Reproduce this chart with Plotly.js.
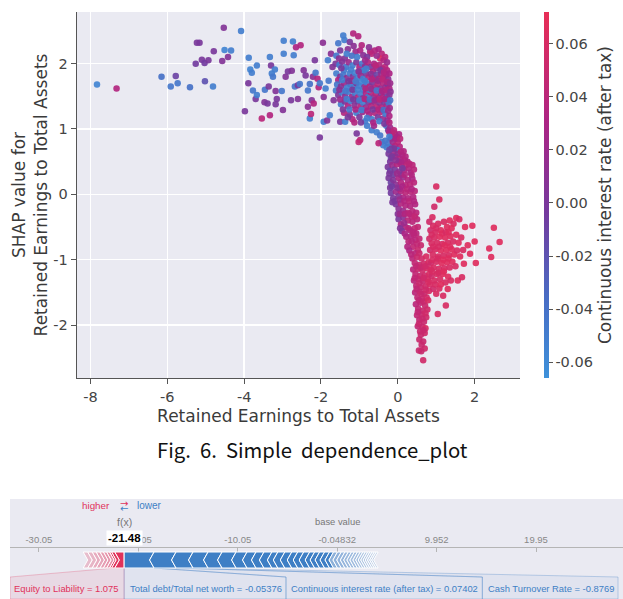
<!DOCTYPE html>
<html><head><meta charset="utf-8">
<script src="https://cdn.plot.ly/plotly-3.0.1.min.js"></script>
<style>html,body{margin:0;padding:0;background:#fff}#chart{width:623px;height:599px}</style>
</head><body><div id="chart"></div>
<script>
// ---------- dependence plot data: [x, shap, colour feature] ----------
const sparseLeft = [
[-7.83,1.68,-0.055],[-7.32,1.62,0.035],[-6.15,1.80,-0.04],[-5.91,1.65,-0.045],[-5.78,1.81,-0.01],[-5.73,1.70,-0.045],
[-5.41,1.64,-0.04],[-5.26,2.00,-0.005],[-5.23,2.32,0.0],[-5.16,2.32,0.0],[-5.10,2.06,0.0],[-5.03,2.01,-0.005],
[-4.93,2.05,0.0],[-5.02,1.73,-0.02],[-4.81,1.65,-0.05],[-4.79,2.19,0.0],[-4.57,2.04,0.005],[-4.51,2.21,-0.055],
[-4.34,2.20,-0.05],[-4.53,2.55,0.005],[-4.42,2.10,0.005],[-4.08,2.50,-0.05],[-3.98,1.27,0.0],[-3.88,2.09,-0.05],
[-3.84,1.91,-0.055],[-3.80,1.86,-0.05],[-3.89,1.70,0.0],[-3.77,1.59,-0.045],[-3.70,1.46,0.0],[-3.67,1.52,-0.05],
[-3.67,1.97,-0.05],[-3.54,1.16,0.04],[-3.47,1.41,0.005],[-3.39,1.39,0.0],[-3.46,1.60,-0.045],[-3.36,1.65,0.0],
[-3.33,1.21,0.035],[-3.33,2.10,-0.05],[-3.30,1.97,0.0],[-3.28,1.85,-0.05],[-3.25,1.80,-0.045],[-3.20,1.91,-0.05],
[-3.18,1.58,0.005],[-3.15,1.46,0.0],[-3.18,1.38,0.0],[-2.99,1.29,0.005],[-3.02,1.58,-0.045],[-2.97,2.35,-0.05],
[-2.97,2.15,-0.05],[-2.92,1.80,0.005],[-2.86,1.88,0.0],[-2.76,1.89,0.005],[-2.73,2.34,-0.05],[-2.71,2.13,-0.05],
[-2.65,2.25,0.03],[-2.53,2.28,0.035],[-2.68,1.65,-0.045],[-2.60,1.67,0.0],[-2.55,1.69,-0.045],[-2.60,1.46,0.005],
[-2.78,1.44,0.0],[-2.45,1.90,0.005],[-2.40,1.82,0.0],[-2.34,1.59,-0.045],[-2.29,1.69,-0.04],[-2.29,1.16,-0.05],
[-2.26,1.23,0.04],[-2.34,1.34,0.01],[-2.24,1.44,0.005],[-2.19,1.39,0.035],[-2.21,1.80,0.01],[-2.16,2.05,0.0],
[-2.14,1.86,-0.045],[-2.09,1.77,0.035],[-2.06,1.64,0.035],[-2.03,1.70,-0.045],[-2.03,0.87,0.0],[-1.95,2.32,0.01],
[-1.93,1.11,-0.05],[-1.84,1.13,0.005],[-1.93,1.49,0.01],[-1.88,1.62,-0.05],[-1.80,1.74,-0.045],[-1.82,2.05,-0.05],
[-1.74,2.15,0.01],[-1.70,1.95,0.005],[-1.77,1.21,-0.05],[-1.67,1.44,0.005],[-1.61,1.59,-0.05]
];
const upperCluster = [
[-1.42,2.43,-0.05],[-1.39,2.36,-0.05],[-1.16,2.46,0.035],[-1.03,2.42,0.035],[-1.55,2.31,-0.045],[-1.25,2.33,0.0],
[-1.50,2.20,0.0],[-1.30,2.22,0.01],[-1.10,2.18,0.02],[-0.98,2.20,0.03],[-0.90,2.13,0.01],[-0.72,2.18,0.035],
[-0.68,2.15,0.04],[-0.42,2.15,0.04],[-0.46,2.08,0.06],[-0.37,2.05,0.035],[-1.20,2.12,-0.04],[-0.80,2.10,0.0],
[-1.60,2.12,-0.045],[-1.38,2.08,0.005],[-0.55,2.12,0.02],
[-1.62,2.00,0.0],[-1.52,1.98,-0.05],[-1.45,2.03,0.005],[-1.35,1.95,-0.045],[-1.28,2.02,0.02],[-1.18,1.97,-0.05],
[-1.08,2.02,0.0],[-1.00,1.95,0.03],[-0.93,2.00,-0.045],[-0.85,1.96,0.01],[-0.78,2.02,0.035],[-0.70,1.95,0.0],
[-0.62,2.00,0.03],[-0.55,1.93,0.01],[-0.48,1.98,0.035],[-0.40,1.92,0.02],[-0.33,1.95,0.04],[-0.28,1.90,0.035],
[-1.40,1.90,-0.05],[-0.98,1.88,-0.05],[-0.65,1.88,0.035],
[-1.60,1.85,-0.05],[-1.50,1.80,0.0],[-1.42,1.83,-0.045],[-1.33,1.78,0.01],[-1.25,1.85,-0.05],[-1.17,1.80,0.0],
[-1.12,1.86,-0.055],[-1.05,1.78,-0.05],[-0.97,1.82,0.02],[-0.90,1.77,-0.05],[-0.83,1.85,0.0],[-0.76,1.79,0.035],
[-0.70,1.84,0.01],[-0.62,1.78,0.03],[-0.55,1.83,-0.01],[-0.49,1.77,0.035],[-0.43,1.84,0.02],[-0.37,1.79,0.04],
[-0.30,1.83,0.03],[-0.25,1.76,0.01],[-1.55,1.75,0.03],[-0.88,1.90,-0.05],
[-1.58,1.68,-0.045],[-1.48,1.65,0.0],[-1.40,1.70,0.02],[-1.32,1.63,-0.05],[-1.24,1.69,-0.045],[-1.15,1.64,-0.05],
[-1.08,1.70,0.0],[-1.00,1.66,-0.05],[-0.94,1.72,-0.055],[-0.87,1.64,0.01],[-0.80,1.70,-0.045],[-0.73,1.65,0.035],
[-0.66,1.71,0.0],[-0.59,1.63,0.03],[-0.52,1.69,0.04],[-0.45,1.62,0.01],[-0.38,1.70,0.035],[-0.32,1.64,0.02],
[-0.26,1.68,0.0],[-0.22,1.62,0.03],[-1.20,1.74,0.03],[-0.90,1.60,-0.05],
[-1.55,1.52,0.0],[-1.45,1.56,-0.05],[-1.37,1.50,0.01],[-1.28,1.57,-0.05],[-1.20,1.49,0.02],[-1.12,1.55,-0.045],
[-1.04,1.48,0.035],[-0.97,1.54,-0.05],[-0.90,1.47,0.0],[-0.83,1.55,0.03],[-0.77,1.49,-0.045],[-0.70,1.56,0.035],
[-0.63,1.48,0.01],[-0.57,1.54,0.04],[-0.50,1.47,0.03],[-0.44,1.55,0.0],[-0.38,1.49,0.035],[-0.31,1.55,0.02],
[-0.27,1.48,-0.03],[-0.22,1.52,0.01],[-0.75,1.60,-0.05],
[-1.48,1.38,-0.05],[-1.38,1.42,0.0],[-1.30,1.35,0.03],[-1.22,1.43,-0.05],[-1.13,1.36,0.01],[-1.05,1.42,0.0],
[-0.97,1.34,0.035],[-0.90,1.40,-0.05],[-0.83,1.33,0.02],[-0.76,1.41,0.0],[-0.69,1.35,0.035],[-0.62,1.42,0.02],
[-0.55,1.34,0.04],[-0.48,1.40,0.01],[-0.42,1.33,0.035],[-0.35,1.41,0.0],[-0.29,1.35,0.025],[-0.24,1.40,-0.045],
[-0.21,1.32,0.02],
[-1.50,1.11,0.0],[-1.37,1.11,-0.05],[-1.25,1.22,0.005],[-1.18,1.15,0.035],[-1.08,1.25,-0.05],[-1.00,1.18,0.0],
[-0.92,1.26,0.02],[-0.85,1.12,-0.05],[-0.75,1.22,0.03],[-0.68,1.15,-0.05],[-0.60,1.25,0.035],[-0.52,1.18,0.0],
[-0.45,1.26,0.035],[-0.38,1.16,0.02],[-0.32,1.23,-0.045],[-0.27,1.13,0.01],[-0.22,1.20,0.03],[-1.40,1.25,0.035],
[-1.07,0.93,0.0],[-0.98,0.83,0.04],[-1.02,0.80,0.045],[-0.68,0.98,-0.05],[-0.55,0.95,-0.05],[-0.46,0.90,-0.045],
[-0.42,0.80,-0.05],[-0.38,0.75,-0.05],[-0.33,0.82,-0.045],[-0.29,0.72,-0.05],[-0.50,0.78,0.04],[-0.80,1.05,-0.05],
[-0.62,1.05,0.02],[-0.30,1.05,-0.05],[-0.25,0.98,0.0],[-0.20,1.02,0.02],[-0.15,0.95,0.01],[-0.12,0.88,0.03]
];
const upperFill = [
[-1.53,2.08,0.01],[-1.33,2.15,-0.05],[-1.15,2.27,0.01],[-1.06,2.10,-0.05],[-0.94,2.28,0.035],[-0.85,2.05,0.02],
[-0.75,2.25,0.01],[-0.60,2.20,0.035],[-0.50,2.22,0.03],[-0.33,2.10,0.04],[-0.28,2.02,0.02],
[-1.47,1.93,0.0],[-1.22,1.91,-0.05],[-1.02,1.88,0.01],[-0.82,1.92,-0.05],[-0.58,1.97,0.04],[-0.45,1.90,0.0],
[-0.36,1.87,0.035],[-0.22,1.85,0.03],
[-1.45,1.75,-0.05],[-1.28,1.73,0.0],[-1.10,1.73,-0.05],[-0.86,1.74,-0.05],[-0.67,1.76,0.035],[-0.52,1.74,0.02],
[-0.40,1.76,0.04],[-0.28,1.72,0.035],[-0.20,1.70,0.02],
[-1.52,1.60,0.01],[-1.36,1.58,-0.045],[-1.18,1.60,0.0],[-1.04,1.60,-0.05],[-0.84,1.62,0.035],[-0.69,1.61,0.02],
[-0.55,1.59,-0.045],[-0.41,1.58,0.03],[-0.29,1.60,0.035],[-0.19,1.57,0.01],
[-1.50,1.45,0.02],[-1.33,1.46,-0.05],[-1.16,1.45,0.0],[-1.00,1.44,-0.05],[-0.86,1.46,0.035],[-0.73,1.45,-0.04],
[-0.60,1.44,0.02],[-0.47,1.45,0.04],[-0.34,1.46,0.03],[-0.20,1.44,-0.04],
[-1.43,1.30,0.0],[-1.26,1.30,-0.045],[-1.10,1.30,0.03],[-0.94,1.29,-0.05],[-0.79,1.28,0.03],[-0.65,1.30,0.0],
[-0.50,1.30,0.035],[-0.37,1.29,-0.04],[-0.25,1.28,0.02],
[-1.30,1.18,0.0],[-1.13,1.10,0.035],[-0.96,1.10,0.0],[-0.80,1.17,-0.05],[-0.64,1.10,0.03],[-0.48,1.12,-0.05],
[-0.35,1.08,0.0],[-0.22,1.10,0.035]
];
const descent = [
[-0.22,0.95,0.03],[-0.15,0.90,0.035],[-0.08,0.93,0.04],[-0.02,0.88,0.035],[0.03,0.92,0.03],[-0.18,0.85,0.0],
[-0.25,0.78,-0.045],[-0.20,0.72,-0.05],[-0.13,0.80,0.02],[-0.07,0.74,0.035],[0.00,0.80,0.04],[0.05,0.73,0.035],
[-0.16,0.70,0.0],[-0.02,0.68,-0.04],
[-0.24,0.62,0.0],[-0.18,0.56,-0.01],[-0.12,0.65,0.02],[-0.06,0.58,0.035],[0.00,0.62,0.01],[0.06,0.55,0.035],
[0.12,0.60,0.03],[0.18,0.52,0.04],[0.25,0.50,0.035],[-0.20,0.50,0.0],[0.03,0.50,0.0],
[-0.26,0.42,0.0],[-0.20,0.36,-0.01],[-0.14,0.45,0.02],[-0.08,0.38,0.0],[-0.02,0.46,0.035],[0.04,0.35,0.01],
[0.10,0.44,0.035],[0.16,0.37,0.03],[0.22,0.45,0.04],[0.28,0.40,0.035],[0.33,0.33,0.03],[0.38,0.45,0.04],
[-0.12,0.30,-0.005],[0.08,0.30,0.0],
[-0.24,0.25,0.0],[-0.18,0.18,-0.01],[-0.12,0.22,0.005],[-0.05,0.15,0.01],[0.02,0.25,0.03],[0.08,0.18,0.035],
[0.14,0.26,0.02],[0.20,0.14,0.04],[0.26,0.22,0.035],[0.32,0.15,0.04],[0.38,0.24,0.03],[-0.20,0.10,0.0],[0.05,0.08,0.0],
[-0.18,0.02,-0.005],[-0.12,-0.06,0.0],[-0.05,0.04,0.02],[0.02,-0.03,0.005],[0.08,0.05,0.035],[0.14,-0.05,0.03],
[0.20,0.03,0.04],[0.27,-0.06,0.035],[0.33,0.04,0.04],[0.40,-0.04,0.035],[0.44,0.05,0.04],[-0.08,-0.10,0.0],
[-0.05,-0.15,0.0],[0.02,-0.22,0.01],[0.08,-0.14,0.035],[0.14,-0.25,0.02],[0.20,-0.17,0.035],[0.26,-0.28,0.04],
[0.32,-0.18,0.035],[0.38,-0.26,0.04],[0.45,-0.15,0.035],[0.48,-0.28,0.04],[0.00,-0.30,0.005],
[0.02,-0.38,0.0],[0.08,-0.46,0.03],[0.14,-0.35,0.01],[0.20,-0.50,0.035],[0.26,-0.40,0.04],[0.32,-0.55,0.035],
[0.38,-0.42,0.04],[0.44,-0.52,0.045],[0.50,-0.38,0.04],[0.10,-0.56,0.0],[0.48,-0.60,0.04],
[0.22,-0.65,0.035],[0.28,-0.72,0.04],[0.34,-0.64,0.035],[0.40,-0.80,0.045],[0.46,-0.70,0.04],[0.52,-0.85,0.05],
[0.56,-0.68,0.045],[0.30,-0.86,0.03],[0.60,-0.78,0.05],[0.45,-0.90,0.04]
];
const descentFill = [
[-0.10,0.98,0.04],[-0.05,0.85,0.03],[0.06,0.85,0.04],[-0.22,0.88,-0.05],[-0.10,0.70,0.0],[0.08,0.65,0.035],[-0.22,0.68,-0.01],
[0.15,0.66,0.035],[-0.15,0.58,0.0],[0.09,0.50,0.03],[0.20,0.58,0.035],[0.30,0.47,0.04],[-0.05,0.52,0.01],
[-0.22,0.32,0.0],[-0.02,0.32,0.02],[0.18,0.30,0.035],[0.36,0.30,0.035],[0.12,0.40,0.0],[0.42,0.38,0.04],
[-0.15,0.12,-0.005],[0.00,0.10,0.01],[0.12,0.12,0.03],[0.24,0.08,0.04],[0.36,0.08,0.035],[0.42,0.18,0.04],
[-0.14,-0.12,0.0],[0.05,-0.08,0.02],[0.17,-0.10,0.035],[0.30,-0.10,0.04],[0.42,-0.10,0.035],[0.36,-0.34,0.04],
[0.05,-0.30,0.02],[0.18,-0.30,0.035],[0.30,-0.30,0.04],[0.44,-0.34,0.045],[0.06,-0.52,0.005],[0.16,-0.44,0.02],
[0.28,-0.52,0.04],[0.40,-0.58,0.04],[0.52,-0.50,0.045],[0.18,-0.60,0.03],[0.25,-0.80,0.035],[0.36,-0.72,0.04],
[0.50,-0.76,0.045],[0.42,-0.62,0.04],[0.56,-0.90,0.05],[0.35,-0.92,0.04]
];
const valleyBottom = [
[0.38,-0.98,0.04],[0.44,-1.05,0.045],[0.50,-0.96,0.05],[0.56,-1.08,0.05],[0.62,-0.98,0.055],[0.68,-1.06,0.055],
[0.74,-0.95,0.06],[0.80,-1.04,0.06],
[0.40,-1.15,0.04],[0.46,-1.22,0.045],[0.52,-1.14,0.05],[0.58,-1.25,0.05],[0.64,-1.16,0.055],[0.70,-1.24,0.055],
[0.76,-1.13,0.06],[0.82,-1.22,0.06],[0.86,-1.15,0.06],
[0.42,-1.32,0.04],[0.48,-1.40,0.045],[0.54,-1.30,0.05],[0.60,-1.42,0.05],[0.66,-1.33,0.05],[0.72,-1.41,0.055],
[0.78,-1.30,0.06],[0.84,-1.38,0.06],
[0.45,-1.50,0.04],[0.51,-1.58,0.045],[0.57,-1.49,0.05],[0.63,-1.60,0.05],[0.69,-1.52,0.05],[0.75,-1.58,0.055],[0.81,-1.48,0.06],
[0.47,-1.68,0.04],[0.53,-1.75,0.045],[0.59,-1.66,0.045],[0.65,-1.78,0.05],[0.71,-1.70,0.05],[0.77,-1.76,0.055],
[0.50,-1.85,0.045],[0.56,-1.92,0.045],[0.62,-1.84,0.05],[0.68,-1.95,0.05],[0.74,-1.88,0.055],
[0.52,-2.02,0.045],[0.58,-2.10,0.05],[0.64,-2.03,0.05],[0.70,-2.12,0.055],[0.56,-2.22,0.05],[0.66,-2.25,0.05],[0.72,-2.05,0.06],
[0.55,-2.39,0.05],[0.70,-2.36,0.055],[0.66,-2.54,0.055],[0.62,-2.30,0.05],
[0.48,-1.10,0.045],[0.60,-1.12,0.05],[0.72,-1.10,0.055],[0.44,-1.28,0.045],[0.56,-1.36,0.05],[0.68,-1.28,0.055],[0.80,-1.34,0.06],
[0.49,-1.45,0.045],[0.61,-1.52,0.05],[0.73,-1.46,0.055],[0.55,-1.62,0.045],[0.67,-1.64,0.05],[0.79,-1.62,0.06],
[0.52,-1.80,0.045],[0.64,-1.90,0.05],[0.72,-1.82,0.055],[0.55,-1.98,0.05],[0.67,-2.08,0.05],[0.60,-2.15,0.05],[0.61,-2.40,0.05]
];
const rightCluster = [
[0.85,-0.55,0.055],[0.92,-0.48,0.06],[0.98,-0.58,0.06],[1.05,-0.45,0.06],[1.12,-0.55,0.065],[1.20,-0.42,0.06],
[1.28,-0.50,0.065],[1.35,-0.40,0.065],[1.45,-0.45,0.06],[1.52,-0.36,0.065],[1.60,-0.38,0.06],[1.40,-0.52,0.065],
[0.82,-0.68,0.055],[0.88,-0.75,0.06],[0.95,-0.66,0.06],[1.02,-0.74,0.06],[1.09,-0.65,0.065],[1.16,-0.76,0.06],
[1.23,-0.66,0.065],[1.30,-0.74,0.06],[1.37,-0.64,0.065],[1.44,-0.72,0.06],[1.52,-0.62,0.065],[1.58,-0.74,0.065],[1.65,-0.66,0.06],
[0.84,-0.85,0.055],[0.91,-0.92,0.06],[0.98,-0.84,0.06],[1.05,-0.95,0.06],[1.12,-0.86,0.065],[1.19,-0.94,0.06],
[1.26,-0.85,0.065],[1.33,-0.93,0.06],[1.40,-0.84,0.065],[1.47,-0.92,0.065],[1.54,-0.86,0.06],[1.62,-0.95,0.065],
[0.86,-1.05,0.055],[0.93,-1.12,0.06],[1.00,-1.03,0.06],[1.07,-1.14,0.06],[1.14,-1.05,0.065],[1.21,-1.13,0.06],
[1.28,-1.04,0.065],[1.35,-1.12,0.06],[1.42,-1.03,0.065],[1.50,-1.10,0.06],[1.72,-1.06,0.065],
[0.88,-1.25,0.055],[0.95,-1.32,0.06],[1.02,-1.22,0.06],[1.10,-1.30,0.06],[1.17,-1.22,0.065],[1.24,-1.35,0.06],
[1.31,-1.26,0.065],[1.38,-1.32,0.06],[1.56,-1.32,0.065],[1.67,-1.27,0.06],
[0.92,-1.45,0.055],[1.00,-1.52,0.06],[1.08,-1.44,0.06],[1.18,-1.55,0.06],[1.30,-1.45,0.065],[1.25,-1.70,0.06],
[1.04,-1.83,0.06],[1.88,-0.91,0.065],
[0.88,-0.62,0.06],[1.00,-0.52,0.06],[1.15,-0.60,0.065],[1.25,-0.58,0.06],[1.32,-0.58,0.065],[0.92,-0.80,0.06],
[1.07,-0.80,0.06],[1.22,-0.78,0.065],[1.36,-0.80,0.065],[0.90,-1.00,0.06],[1.04,-0.98,0.06],[1.18,-1.00,0.065],
[1.32,-0.98,0.065],[0.90,-1.18,0.06],[1.06,-1.20,0.06],[1.20,-1.18,0.065],[0.98,-1.38,0.06],[1.12,-1.38,0.065],
[1.00,0.12,0.06],[1.08,-0.08,0.06],[0.95,-0.19,0.055],[0.90,-0.35,0.06],[0.82,-0.42,0.055],
[1.94,-0.48,0.065],[2.00,-0.72,0.065],[2.03,-1.05,0.065],[2.38,-0.83,0.065],[2.43,-0.96,0.065],[2.50,-0.51,0.065],
[2.65,-0.73,0.065],[1.75,-0.50,0.065],[1.82,-0.78,0.065],[1.70,-0.85,0.06]
];
const xTickVals = [-8,-6,-4,-2,0,2];
const xTickText = ['-8','-6','-4','-2','0','2'];
const yTickVals = [-2,-1,0,1,2];
const yTickText = ['-2','-1','0','1','2'];
const cbTickVals = [-0.06,-0.04,-0.02,0,0.02,0.04,0.06];
const cbTickText = ['-0.06','-0.04','-0.02','0.00','0.02','0.04','0.06'];

// ---------- force plot data ----------
const baseValue = -0.04832;
const posShap = [0.95,0.32,0.20,0.30,0.32,0.35,0.38,0.40,0.45,0.45];
const negShap = [3.01,2.21,1.71,1.51,1.41,1.41,1.10,0.90,0.80,0.80,0.60,0.70,0.70,0.60,0.60,0.60,0.50,0.50,0.50,0.50,0.40,
                 0.40,0.38,0.36,0.34,0.32,0.30,0.30,0.28,0.26,0.25,0.24,0.22,0.22,0.22,0.20,0.20];
const posLabels = ['Equity to Liability = 1.075'];
const negLabels = ['Total debt/Total net worth = -0.05376','Continuous interest rate (after tax) = 0.07402','Cash Turnover Rate = -0.8769'];
const forceTickVals = [-30.05,-20.05,-10.05,-0.04832,9.952,19.95];
const forceTickText = ['-30.05','-20.05','-10.05','-0.04832','9.952','19.95'];

// ---------- build ----------
const allPts = [].concat(sparseLeft, upperCluster, upperFill, descent, descentFill, valleyBottom, rightCluster);
const DV = 'DejaVu Sans';
const LS = 'Liberation Sans, Arial';
const RED = '#e0325b', BLUE = '#3e7fc5';

const scatter = {
  type:'scatter', mode:'markers', xaxis:'x', yaxis:'y',
  x: allPts.map(p=>p[0]), y: allPts.map(p=>p[1]),
  marker:{
    size:6.5, opacity:0.92, color: allPts.map(p=>p[2]), cmin:-0.066, cmax:0.072,
    colorscale:[[0,'rgb(62,145,218)'],[0.22,'rgb(72,108,196)'],[0.45,'rgb(116,58,158)'],[0.7,'rgb(172,36,132)'],[1,'rgb(232,46,86)']],
    line:{width:0},
    colorbar:{
      x:544/623, xanchor:'left', xpad:0, y:1-12/599, yanchor:'top', ypad:0,
      len:366/599, lenmode:'fraction', thickness:5, outlinewidth:0,
      tickmode:'array', tickvals:cbTickVals, ticktext:cbTickText,
      ticks:'outside', ticklen:4, tickcolor:'#555',
      tickfont:{family:DV, size:14.5, color:'#444'},
      title:{text:'Continuous interest rate (after tax)', side:'right', font:{family:DV, size:17, color:'#3a3a3a'}}
    }
  },
  hoverinfo:'skip', showlegend:false
};

const fxValue = baseValue + posShap.reduce((a,b)=>a+b,0) - negShap.reduce((a,b)=>a+b,0);
const px2u = 1/9.94; // force-axis units per pixel (layout helper)
const barTop = 47, barBot = 31, barMid = 39, labTop = 22;
const depth = 4.5*px2u;
const shapes = [];
const nPosSolid = 3, nNegSolid = 21;

// connector polygons + label boxes (drawn under the bar)
const redBoxLeft = -32.95;
const blueBoxEdges = [fxValue, -5.2, 14.55, 28.2];
shapes.push({type:'path', xref:'x2', yref:'y2', layer:'below',
  path:`M${fxValue-posShap[0]},${barBot} L${fxValue},${barBot} L${fxValue},0 L${redBoxLeft},0 L${redBoxLeft},${labTop} Z`,
  fillcolor:'rgba(224,50,91,0.09)', line:{color:'rgba(224,50,91,0.25)', width:1}});
let cum = 0;
negLabels.forEach((lab,k)=>{
  const s = fxValue+cum, e = fxValue+cum+negShap[k]; cum += negShap[k];
  shapes.push({type:'path', xref:'x2', yref:'y2', layer:'below',
    path:`M${s},${barBot} L${e},${barBot} L${blueBoxEdges[k+1]},${labTop} L${blueBoxEdges[k+1]},0 L${blueBoxEdges[k]},0 L${blueBoxEdges[k]},${labTop} Z`,
    fillcolor:'rgba(62,127,197,0.06)', line:{color:'rgba(62,127,197,0.3)', width:1}});
});

// red segments (arrows pointing right), going left from f(x)
cum = 0;
posShap.forEach((v,i)=>{
  const xr = fxValue-cum, xl = fxValue-cum-v; cum += v;
  const tip = i===0 ? xr : xr+depth;
  const solid = i < nPosSolid;
  const a = solid ? 1 : 0.5 - 0.3*(i-nPosSolid)/(posShap.length-nPosSolid);
  shapes.push({type:'path', xref:'x2', yref:'y2',
    path:`M${xl},${barTop} L${xr},${barTop} L${tip},${barMid} L${xr},${barBot} L${xl},${barBot} L${xl+depth},${barMid} Z`,
    fillcolor: solid ? RED : `rgba(224,50,91,${a.toFixed(3)})`, line:{color:'#ffffff', width:1}});
});
// blue segments (arrows pointing left), going right from f(x)
cum = 0;
negShap.forEach((v,j)=>{
  const xa = fxValue+cum, xb = fxValue+cum+v; cum += v;
  const tip = j===0 ? xa : xa-depth;
  const solid = j < nNegSolid;
  const a = solid ? 1 : 0.55 - 0.35*(j-nNegSolid)/(negShap.length-nNegSolid);
  shapes.push({type:'path', xref:'x2', yref:'y2',
    path:`M${xa},${barTop} L${xb},${barTop} L${xb-depth},${barMid} L${xb},${barBot} L${xa},${barBot} L${tip},${barMid} Z`,
    fillcolor: solid ? BLUE : `rgba(62,127,197,${a.toFixed(3)})`, line:{color:'#ffffff', width:1}});
});

const annotations = [
  {xref:'paper', yref:'paper', x:312/623, y:(599-449)/599, xanchor:'center', yanchor:'middle', showarrow:false,
   text:'Fig.\u00a0 6.\u00a0 Simple\u00a0 dependence_plot', font:{family:'Noto Sans CJK KR', size:20.3, color:'#111'}},
  {xref:'x2', yref:'y2', x:fxValue-1.2, y:94, xanchor:'right', yanchor:'middle', showarrow:false, text:'higher', font:{family:LS, size:9.8, color:RED}},
  {xref:'x2', yref:'y2', x:fxValue+1.1, y:94, xanchor:'left', yanchor:'middle', showarrow:false, text:'lower', font:{family:LS, size:10, color:BLUE}},
  {xref:'x2', yref:'y2', x:fxValue, y:96, xanchor:'center', yanchor:'middle', showarrow:false, text:'\u2192', font:{family:'DejaVu Sans', size:10, color:RED}},
  {xref:'x2', yref:'y2', x:fxValue, y:91, xanchor:'center', yanchor:'middle', showarrow:false, text:'\u2190', font:{family:'DejaVu Sans', size:10, color:BLUE}},
  {xref:'x2', yref:'y2', x:fxValue, y:77, xanchor:'center', yanchor:'middle', showarrow:false, text:'f(x)', font:{family:LS, size:10.5, color:'#777'}},
  {xref:'x2', yref:'y2', x:baseValue, y:78, xanchor:'center', yanchor:'middle', showarrow:false, text:'base value', font:{family:LS, size:9.4, color:'#777'}},
  {xref:'x2', yref:'y2', x:fxValue, y:61.5, xanchor:'center', yanchor:'middle', showarrow:false, text:'<b>'+fxValue.toFixed(2)+'</b>',
   bgcolor:'#ffffff', borderpad:1, font:{family:LS, size:11.5, color:'#000'}},
  {xref:'x2', yref:'y2', x:fxValue-0.35, y:11, xanchor:'right', yanchor:'middle', showarrow:false, text:posLabels[0], font:{family:LS, size:9.4, color:RED}}
];
negLabels.forEach((lab,k)=>{
  annotations.push({xref:'x2', yref:'y2', x:blueBoxEdges[k]+0.35, y:11, xanchor:'left', yanchor:'middle', showarrow:false, text:lab,
    font:{family:LS, size:9.4, color:BLUE}});
});

const layout = {
  width:623, height:599, margin:{l:0,r:0,t:0,b:0},
  paper_bgcolor:'#ffffff', plot_bgcolor:'#eaeaf2', showlegend:false,
  font:{family:DV, color:'#444'},
  xaxis:{domain:[77/623, 520/623], range:[-8.35,3.18], anchor:'y',
    tickmode:'array', tickvals:xTickVals, ticktext:xTickText,
    showgrid:true, gridcolor:'#ffffff', gridwidth:1.3, zeroline:false,
    showline:true, linecolor:'#555', linewidth:1.3, ticks:'outside', ticklen:5, tickcolor:'#555',
    tickfont:{family:DV, size:14.5, color:'#444'},
    title:{text:'Retained Earnings to Total Assets', standoff:6, font:{family:DV, size:17, color:'#3a3a3a'}}},
  yaxis:{domain:[(599-378)/599, (599-12)/599], range:[-2.81,2.79], anchor:'x',
    tickmode:'array', tickvals:yTickVals, ticktext:yTickText,
    showgrid:true, gridcolor:'#ffffff', gridwidth:1.3, zeroline:false,
    showline:true, linecolor:'#555', linewidth:1.3, ticks:'outside', ticklen:5, tickcolor:'#555',
    tickfont:{family:DV, size:14.5, color:'#444'},
    title:{text:'SHAP value for<br>Retained Earnings to Total Assets', standoff:1, font:{family:DV, size:17, color:'#3a3a3a'}}},
  xaxis2:{domain:[10/623, 1], range:[-32.96, 28.70], anchor:'free', position:52/599, side:'top',
    tickmode:'array', tickvals:forceTickVals, ticktext:forceTickText,
    showgrid:false, zeroline:false, showline:true, linecolor:'#b5b5b5', linewidth:1,
    ticks:'inside', ticklen:4, tickcolor:'#b5b5b5',
    tickfont:{family:LS, size:9.5, color:'#888'}},
  yaxis2:{domain:[0, 100/599], range:[0,100], anchor:'x2', visible:false},
  shapes: shapes, annotations: annotations
};

const forceAnchor = {type:'scatter', mode:'markers', xaxis:'x2', yaxis:'y2', x:[baseValue], y:[-50], marker:{opacity:0}, hoverinfo:'skip', showlegend:false};

Plotly.newPlot('chart', [scatter, forceAnchor], layout, {staticPlot:true});
</script></body></html>
